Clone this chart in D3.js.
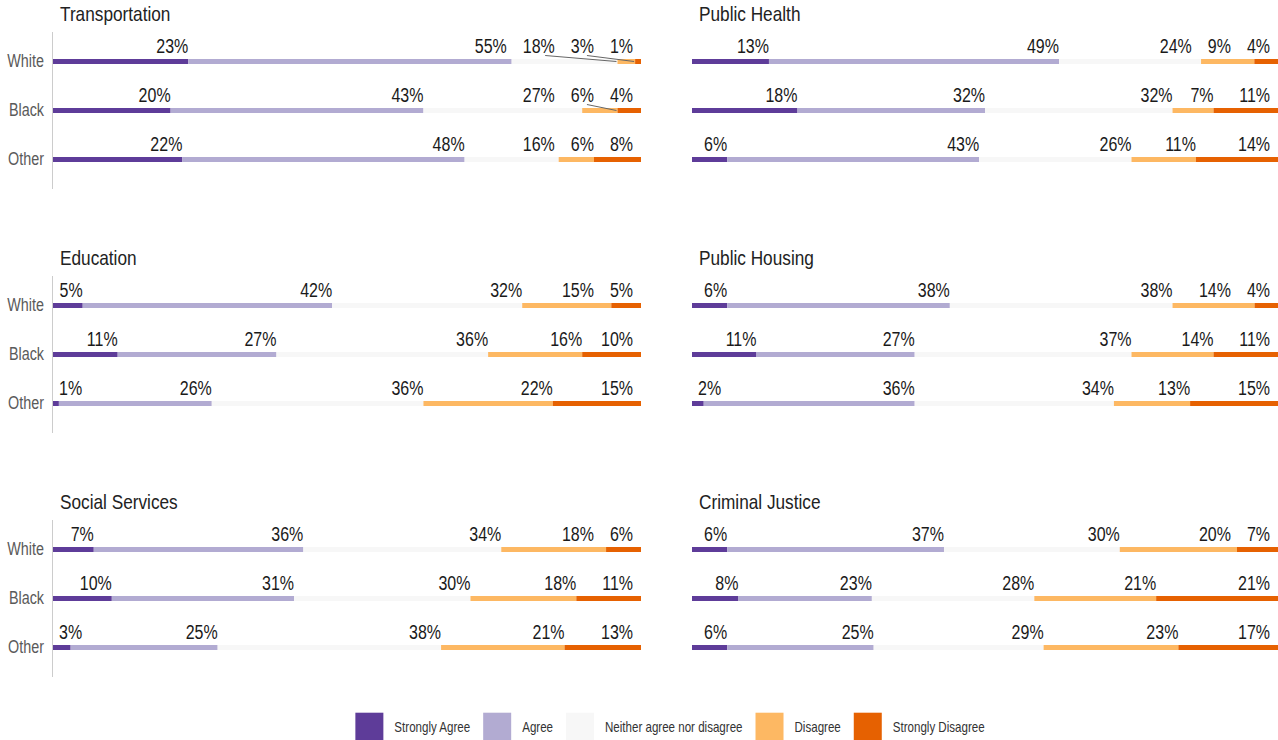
<!DOCTYPE html>
<html>
<head>
<meta charset="utf-8">
<script src="https://cdn.jsdelivr.net/npm/d3@7"></script>
<style>
  html, body { margin: 0; padding: 0; background: #fff; }
  svg { display: block; font-family: "Liberation Sans", Arial, sans-serif; }
</style>
</head>
<body>
<svg id="chart" width="1278" height="740"></svg>
<script>
// ---- data ----
const responses = ["Strongly Agree", "Agree", "Neither agree nor disagree", "Disagree", "Strongly Disagree"];
const groups = ["White", "Black", "Other"];
const colors = ["#5e3c99", "#b2abd2", "#f7f7f7", "#fdb863", "#e66101"];

const topics = ["Transportation", "Public Health", "Education", "Public Housing", "Social Services", "Criminal Justice"];

const transportation = [[23, 55, 18, 3, 1], [20, 43, 27, 6, 4], [22, 48, 16, 6, 8]];
const publicHealth   = [[13, 49, 24, 9, 4], [18, 32, 32, 7, 11], [6, 43, 26, 11, 14]];
const education      = [[5, 42, 32, 15, 5], [11, 27, 36, 16, 10], [1, 26, 36, 22, 15]];
const publicHousing  = [[6, 38, 38, 14, 4], [11, 27, 37, 14, 11], [2, 36, 34, 13, 15]];
const socialServices = [[7, 36, 34, 18, 6], [10, 31, 30, 18, 11], [3, 25, 38, 21, 13]];
const criminalJustice= [[6, 37, 30, 20, 7], [8, 23, 28, 21, 21], [6, 25, 29, 23, 17]];

const topicValues = [transportation, publicHealth, education, publicHousing, socialServices, criminalJustice];

// narrow-font emulation: compress glyphs horizontally
const NARROW = 0.82;
function condense(sel) {
  const w = [];
  sel.each(function () {
    const n = this.getComputedTextLength() * NARROW;
    w.push(n);
    d3.select(this).attr("textLength", n).attr("lengthAdjust", "spacingAndGlyphs");
  });
  return w;
}

// ---- layout ----
const svg = d3.select("#chart");
const colX = [[53, 641], [692, 1278]];
const rowTop = [32, 276, 520];
const panelH = 157;
const labelGap = 16;

topics.forEach((topic, ti) => {
  const col = ti % 2, row = Math.floor(ti / 2);
  const [x0, x1] = colX[col];
  const top = rowTop[row];
  const g = svg.append("g");

  const y = d3.scalePoint().domain(groups).range([top + 29.5, top + 127.5]);

  // title
  condense(g.append("text")
    .attr("x", x0 + 7).attr("y", top - 11)
    .attr("font-size", 21).attr("fill", "#222")
    .text(topic));

  if (col === 0) {
    g.append("line")
      .attr("x1", x0 - 0.5).attr("x2", x0 - 0.5)
      .attr("y1", top).attr("y2", top + panelH)
      .attr("stroke", "#cccccc").attr("stroke-width", 1);
    condense(g.selectAll("text.grp").data(groups).join("text")
      .attr("class", "grp")
      .attr("x", x0 - 9).attr("y", d => y(d))
      .attr("dy", "0.3em")
      .attr("text-anchor", "end")
      .attr("font-size", 17.5).attr("fill", "#5a5a5a")
      .text(d => d));
  }

  topicValues[ti].forEach((vals, gi) => {
    const total = d3.sum(vals);
    const x = d3.scaleLinear().domain([0, total]).range([x0, x1]);
    const cy = y(groups[gi]);
    const stackData = d3.stack().keys(d3.range(vals.length))([vals]).map((s, i) => ({ i, v: vals[i], a: s[0][0], b: s[0][1] }));

    g.selectAll(null).data(stackData).join("rect")
      .attr("x", d => x(d.a)).attr("width", d => Math.max(0, x(d.b) - x(d.a)))
      .attr("y", cy - 2.5).attr("height", 5)
      .attr("fill", d => colors[d.i]);

    // labels
    const texts = g.selectAll(null).data(stackData).join("text")
      .attr("y", cy - 9)
      .attr("text-anchor", "end")
      .attr("font-size", 19.5).attr("fill", "#1a1a1a")
      .text(d => d.v + "%");
    const widths = condense(texts);
    const ideal = stackData.map(d => x(d.b));
    const r = ideal.slice();
    let limit = x1 - 8;
    for (let i = r.length - 1; i >= 0; i--) {
      r[i] = Math.min(ideal[i], limit);
      limit = r[i] - widths[i] - labelGap;
    }
    let minLeft = x0 + 6;
    for (let i = 0; i < r.length; i++) {
      if (r[i] - widths[i] < minLeft) r[i] = minLeft + widths[i];
      minLeft = r[i] + labelGap;
    }
    texts.attr("x", (d, i) => r[i]);

    // leader lines for labels pushed well away from their own segment
    stackData.forEach((d, i) => {
      const disp = ideal[i] - r[i];
      const segW = x(d.b) - x(d.a);
      if (disp > 15 && disp > 0.5 * segW) {
        g.append("line")
          .attr("x1", r[i] - widths[i] * 0.3).attr("y1", cy - 6)
          .attr("x2", ideal[i] - 1).attr("y2", cy)
          .attr("stroke", "#666").attr("stroke-width", 1);
      }
    });
  });
});

// ---- legend ----
const legend = svg.append("g");
const items = legend.selectAll("g").data(responses).join("g");
items.append("rect").attr("width", 28).attr("height", 28).attr("fill", (d, i) => colors[i]);
const tw = condense(items.append("text").attr("x", 39).attr("y", 14).attr("dy", "0.35em")
  .attr("font-size", 14.1).attr("fill", "#333").text(d => d));
let pos = 0;
const offsets = tw.map(w => { const p = pos; pos += 39 + w + 13; return p; });
const totalW = pos - 13;
const startX = 670 - totalW / 2;
items.attr("transform", (d, i) => `translate(${startX + offsets[i]},712.7)`);
</script>
</body>
</html>
